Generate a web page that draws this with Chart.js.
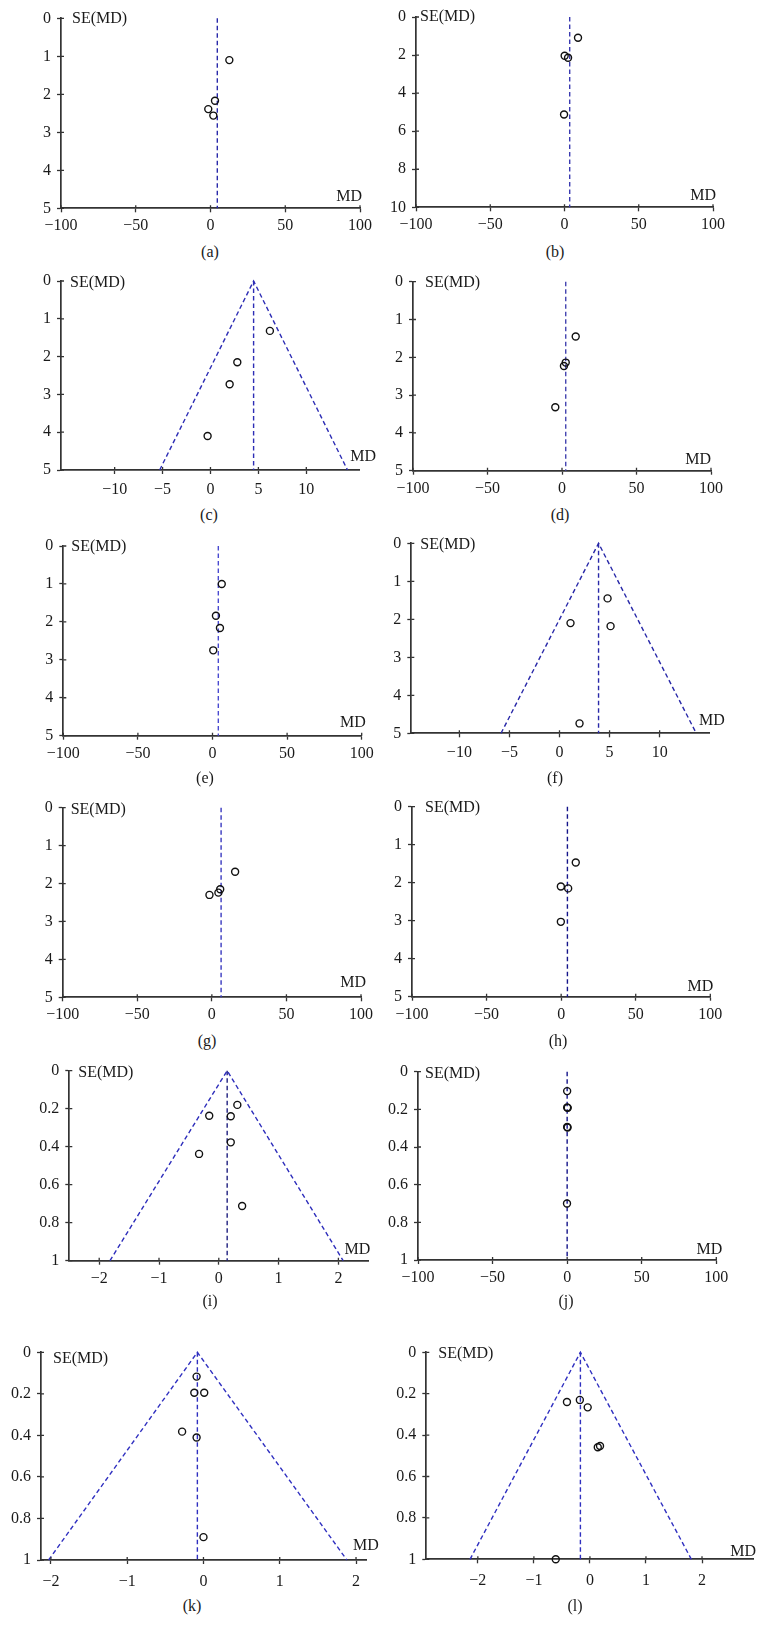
<!DOCTYPE html>
<html><head><meta charset="utf-8">
<script src="https://cdn.jsdelivr.net/npm/chart.js@4"></script>
<style>
html,body{margin:0;padding:0;background:#fff;}
body{width:766px;height:1639px;position:relative;overflow:hidden;font-family:"Liberation Serif","DejaVu Serif",serif;}
canvas{position:absolute;}
.lbl{position:absolute;font-size:16px;color:#1a1a1a;transform:translate(-50%,-50%);white-space:nowrap;font-family:"Liberation Serif","DejaVu Serif",serif;}
</style></head><body>
<script>
// ---- tick labels ----
const ticksMD100 = [-100, -50, 0, 50, 100];
const ticksMD10 = [-10, -5, 0, 5, 10];
const ticksMD2 = [-2, -1, 0, 1, 2];
const ticksSE5 = [0, 1, 2, 3, 4, 5];
const ticksSE10 = [0, 2, 4, 6, 8, 10];
const ticksSE1 = [0, 0.2, 0.4, 0.6, 0.8, 1];

// ---- series values (MD, SE(MD)) ----
const aMD = [12.6, 3.0, -1.5, 1.9];        const aSE = [1.1, 2.17, 2.39, 2.56];       const aPooled = 4.55;
const bMD = [9.1, 0.1, 2.4, -0.3];         const bSE = [1.09, 2.04, 2.14, 5.12];      const bPooled = 3.5;
const cMD = [6.2, 2.8, 2.0, -0.3];         const cSE = [1.32, 2.15, 2.73, 4.1];       const cPooled = 4.5;
const dMD = [9.2, 2.5, 1.3, -4.5];         const dSE = [1.45, 2.14, 2.23, 3.32];      const dPooled = 2.5;
const eMD = [6.2, 2.3, 5.0, 0.5];          const eSE = [1.0, 1.84, 2.16, 2.75];       const ePooled = 3.9;
const fMD = [4.8, 1.1, 5.1, 2.0];          const fSE = [1.45, 2.1, 2.18, 4.74];       const fPooled = 3.9;
const gMD = [15.6, 5.6, 4.4, -1.6];        const gSE = [1.69, 2.15, 2.24, 2.3];       const gPooled = 6.2;
const hMD = [9.8, -0.2, 4.7, -0.2];        const hSE = [1.47, 2.1, 2.15, 3.03];       const hPooled = 4.2;
const iMD = [0.31, -0.16, 0.2, 0.2, -0.33, 0.39]; const iSE = [0.18, 0.237, 0.24, 0.377, 0.438, 0.712]; const iPooled = 0.14;
const jMD = [0, 0, 0.4, 0, 0.3, -0.1];     const jSE = [0.103, 0.19, 0.192, 0.294, 0.296, 0.70]; const jPooled = 0;
const kMD = [-0.09, -0.12, 0.01, -0.28, -0.09, 0.0]; const kSE = [0.117, 0.195, 0.195, 0.382, 0.41, 0.89]; const kPooled = -0.08;
const lMD = [-0.41, -0.18, -0.04, 0.14, 0.18, -0.61]; const lSE = [0.24, 0.23, 0.266, 0.459, 0.453, 1.0]; const lPooled = -0.17;

// ---- funnel outlines (MD at SE max, apex, SE max) ----
const cFunnelMD = [-5.3, 4.5, 14.3];   const cFunnelSE = [5, 0, 5];
const fFunnelMD = [-5.84, 3.9, 13.66]; const fFunnelSE = [5, 0, 5];
const iFunnelMD = [-1.82, 0.14, 2.08]; const iFunnelSE = [1, 0, 1];
const kFunnelMD = [-2.03, -0.08, 1.88]; const kFunnelSE = [1, 0, 1];
const lFunnelMD = [-2.14, -0.17, 1.81]; const lFunnelSE = [1, 0, 1];

// ---- panel configuration ----
const panels = [
 {name:'(a)', md:aMD, se:aSE, pooled:aPooled, seMax:5,  xMin:-100, xMax:100, xt:ticksMD100, yt:ticksSE5,
  col:0, ax:61, top:18.3, bot:208.3, right:360, color:'#2a2aaa', seDx:11, seDy:0, mdDx:2, mdDy:11.6, xPad:4, lx:210, ly:252},
 {name:'(b)', md:bMD, se:bSE, pooled:bPooled, seMax:10, xMin:-100, xMax:100, xt:ticksMD100, yt:ticksSE10,
  col:383, ax:416, top:17, bot:207.3, right:713, color:'#3a3ab0', seDx:4, seDy:0, mdDx:3, mdDy:11.6, xPad:4, lx:555, ly:252},
 {name:'(c)', md:cMD, se:cSE, pooled:cPooled, seMax:5, xMin:-15.6, xMax:15.5, xt:ticksMD10, yt:ticksSE5,
  funnelMD:cFunnelMD, funnelSE:cFunnelSE,
  col:0, ax:61, top:281, bot:470, right:359, color:'#2d2db5', seDx:9, seDy:2, mdDx:17, mdDy:13, xPad:6, lx:209, ly:515},
 {name:'(d)', md:dMD, se:dSE, pooled:dPooled, seMax:5, xMin:-100, xMax:100, xt:ticksMD100, yt:ticksSE5,
  col:383, ax:413, top:281.7, bot:470.7, right:711, color:'#4444b0', seDx:12, seDy:1, mdDx:0, mdDy:11.4, xPad:4.5, lx:560, ly:515},
 {name:'(e)', md:eMD, se:eSE, pooled:ePooled, seMax:5, xMin:-100, xMax:100, xt:ticksMD100, yt:ticksSE5,
  col:0, ax:63.3, top:546, bot:735.7, right:361.7, color:'#4a4ad0', seDx:8, seDy:1, mdDx:4, mdDy:13, xPad:4, lx:205, ly:778},
 {name:'(f)', md:fMD, se:fSE, pooled:fPooled, seMax:5, xMin:-14.8, xMax:15, xt:ticksMD10, yt:ticksSE5,
  funnelMD:fFunnelMD, funnelSE:fFunnelSE,
  col:383, ax:411.3, top:543.3, bot:733.3, right:709.7, color:'#2828a8', seDx:9, seDy:1, mdDx:15, mdDy:12.6, xPad:6, lx:555, ly:778},
 {name:'(g)', md:gMD, se:gSE, pooled:gPooled, seMax:5, xMin:-100, xMax:100, xt:ticksMD100, yt:ticksSE5,
  col:0, ax:62.7, top:807.7, bot:997.3, right:361, color:'#3a3ac0', seDx:8, seDy:2, mdDx:5, mdDy:14.6, xPad:4, lx:207, ly:1041},
 {name:'(h)', md:hMD, se:hSE, pooled:hPooled, seMax:5, xMin:-100, xMax:100, xt:ticksMD100, yt:ticksSE5,
  col:383, ax:412, top:806.7, bot:996.7, right:710.3, color:'#15158a', seDx:13, seDy:1, mdDx:3, mdDy:10, xPad:4, lx:558, ly:1041},
 {name:'(i)', md:iMD, se:iSE, pooled:iPooled, seMax:1, xMin:-2.5, xMax:2.5, xt:ticksMD2, yt:ticksSE1,
  funnelMD:iFunnelMD, funnelSE:iFunnelSE,
  col:0, ax:69.3, top:1070.7, bot:1260.7, right:368.3, color:'#2d2dbb', lineColor:'#202080', seDx:9, seDy:2, mdDx:2, mdDy:10.7, xPad:4, lx:210, ly:1301},
 {name:'(j)', md:jMD, se:jSE, pooled:jPooled, seMax:1, xMin:-100, xMax:100, xt:ticksMD100, yt:ticksSE1,
  col:383, ax:418, top:1071.7, bot:1260, right:716.3, color:'#15158a', seDx:7, seDy:2, mdDx:6, mdDy:10, xPad:4, lx:566, ly:1301},
 {name:'(k)', md:kMD, se:kSE, pooled:kPooled, seMax:1, xMin:-2.13, xMax:2.14, xt:ticksMD2, yt:ticksSE1,
  funnelMD:kFunnelMD, funnelSE:kFunnelSE,
  col:0, ax:41, top:1352.3, bot:1560, right:366.7, color:'#3030c0', seDx:12, seDy:6, mdDx:12, mdDy:14.3, xPad:8, lx:192, ly:1606},
 {name:'(l)', md:lMD, se:lSE, pooled:lPooled, seMax:1, xMin:-2.92, xMax:2.91, xt:ticksMD2, yt:ticksSE1,
  funnelMD:lFunnelMD, funnelSE:lFunnelSE,
  col:383, ax:426.3, top:1352.3, bot:1559.3, right:753, color:'#3030c0', seDx:12, seDy:1, mdDx:3, mdDy:7.6, xPad:8, lx:575, ly:1606}
];

const FONT = '"Liberation Serif", "DejaVu Serif", serif';
const AXIS = '#333333';
const TXT = '#1a1a1a';

function fmt(v){
  const a = Math.round(Math.abs(v)*100)/100;
  return (v < 0 ? '\u2212' : '') + String(a);
}

const textPlugin = {
  id:'panelText',
  afterDraw(chart, args, o){
    const {ctx, chartArea:ca, scales} = chart;
    ctx.save();
    // small inner tick stubs so the ticks cross the axis lines
    ctx.strokeStyle = AXIS; ctx.lineWidth = 1.3;
    ctx.beginPath();
    scales.x.ticks.forEach((t, i) => {
      const px = scales.x.getPixelForValue(t.value);
      ctx.moveTo(px, ca.bottom); ctx.lineTo(px, ca.bottom - 3);
    });
    scales.y.ticks.forEach((t, i) => {
      const py = scales.y.getPixelForValue(t.value);
      ctx.moveTo(ca.left, py); ctx.lineTo(ca.left + 3, py);
    });
    ctx.stroke();
    ctx.font = '16px ' + FONT;
    ctx.fillStyle = TXT;
    ctx.textBaseline = 'middle';
    ctx.textAlign = 'left';
    ctx.fillText('SE(MD)', ca.left + o.seDx, ca.top + o.seDy);
    ctx.textAlign = 'right';
    ctx.fillText('MD', ca.right + o.mdDx, ca.bottom - o.mdDy);
    ctx.restore();
  }
};

const XH = 34;
panels.forEach(p => {
  const cTop = Math.floor(p.top) - 20;
  const cBotEdge = Math.ceil(p.bot);
  const H = cBotEdge - cTop + XH;
  const cv = document.createElement('canvas');
  cv.width = 383; cv.height = H;
  cv.style.left = p.col + 'px'; cv.style.top = cTop + 'px';
  cv.style.width = '383px'; cv.style.height = H + 'px';
  document.body.appendChild(cv);

  const lbl = document.createElement('div');
  lbl.className = 'lbl'; lbl.textContent = p.name;
  lbl.style.left = p.lx + 'px'; lbl.style.top = p.ly + 'px';
  document.body.appendChild(lbl);

  const datasets = [];
  const dash = {showLine:true, pointRadius:0, borderDash:[4.5,3], borderWidth:1.4, fill:false, clip:false, order:2};
  if (p.funnelMD) {
    datasets.push(Object.assign({}, dash, {
      label:'funnel', borderColor:p.color,
      data:p.funnelMD.map((x,i)=>({x:x, y:p.funnelSE[i]}))
    }));
  }
  datasets.push(Object.assign({}, dash, {
    label:'pooled', borderColor:p.lineColor || p.color,
    data:[{x:p.pooled, y:0},{x:p.pooled, y:p.seMax}]
  }));
  datasets.push({
    label:'studies', showLine:false, clip:false, order:1,
    pointStyle:'circle', pointRadius:3.5, pointBorderWidth:1.4,
    pointBorderColor:'#111', pointBackgroundColor:'rgba(0,0,0,0)',
    borderColor:'#111', backgroundColor:'rgba(0,0,0,0)',
    data:p.md.map((x,i)=>({x:x, y:p.se[i]}))
  });

  new Chart(cv, {
    type:'scatter',
    data:{datasets},
    options:{
      responsive:false, animation:false, devicePixelRatio:1,
      events:[],
      layout:{padding:{top:p.top - cTop, right:(p.col+383) - p.right, left:0, bottom:cBotEdge - p.bot}},
      plugins:{legend:{display:false}, tooltip:{enabled:false}, panelText:{seDx:p.seDx, seDy:p.seDy, mdDx:p.mdDx, mdDy:p.mdDy}},
      scales:{
        x:{
          type:'linear', position:'bottom', min:p.xMin, max:p.xMax,
          afterBuildTicks:s=>{ s.ticks = p.xt.map(v=>({value:v})); },
          afterFit:s=>{ s.height = XH; },
          grid:{drawOnChartArea:false, drawTicks:true, tickLength:4, color:AXIS, tickWidth:1.3},
          border:{display:true, color:AXIS, width:1.7},
          ticks:{font:{family:FONT, size:16}, color:TXT, padding:p.xPad, maxRotation:0, autoSkip:false, callback:v=>fmt(v)}
        },
        y:{
          type:'linear', position:'left', reverse:true, min:0, max:p.seMax,
          afterBuildTicks:s=>{ s.ticks = p.yt.map(v=>({value:v})); },
          afterFit:s=>{ s.width = p.ax - p.col; },
          grid:{drawOnChartArea:false, drawTicks:true, tickLength:4, color:AXIS, tickWidth:1.3},
          border:{display:true, color:AXIS, width:1.7},
          ticks:{font:{family:FONT, size:16}, color:TXT, padding:6, autoSkip:false, callback:v=>fmt(v)}
        }
      }
    },
    plugins:[textPlugin]
  });
});
</script>
</body></html>
